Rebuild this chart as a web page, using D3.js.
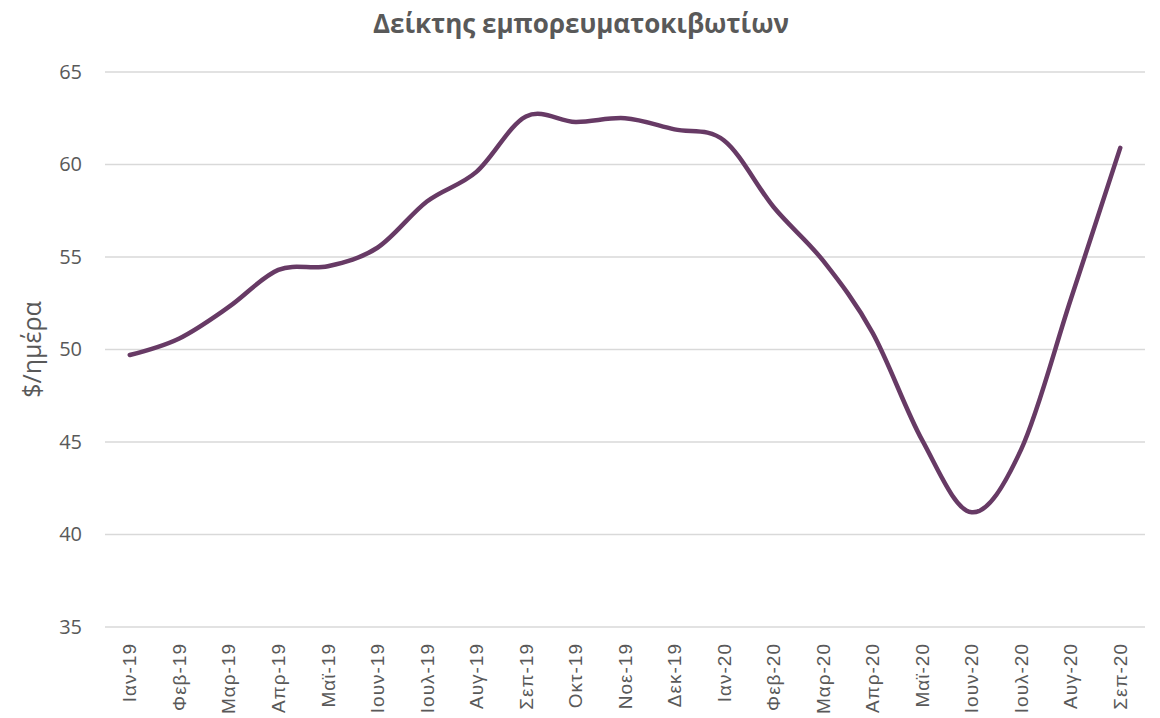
<!DOCTYPE html>
<html>
<head>
<meta charset="utf-8">
<script src="https://cdn.jsdelivr.net/npm/d3@7"></script>
<style>
  body { margin: 0; background: #fff; }
  svg text { fill: #595959; }
</style>
</head>
<body>
<svg id="chart" width="1160" height="718"></svg>
<script>
var months = ["Ιαν-19", "Φεβ-19", "Μαρ-19", "Απρ-19", "Μαϊ-19", "Ιουν-19", "Ιουλ-19",
  "Αυγ-19", "Σεπ-19", "Οκτ-19", "Νοε-19", "Δεκ-19", "Ιαν-20", "Φεβ-20", "Μαρ-20",
  "Απρ-20", "Μαϊ-20", "Ιουν-20", "Ιουλ-20", "Αυγ-20", "Σεπ-20"];
var index = [49.7, 50.6, 52.3, 54.3, 54.5, 55.5, 58.0, 59.6, 62.6, 62.3, 62.5,
  61.9, 61.3, 57.7, 54.8, 50.9, 45.1, 41.2, 44.6, 52.7, 60.9];
var yTicks = [35, 40, 45, 50, 55, 60, 65];

var svg = d3.select("#chart"),
  plotLeft = 105, plotRight = 1145, plotTop = 72, plotBottom = 627;

var x = d3.scaleBand()
  .domain(months)
  .range([plotLeft, plotRight]);

var y = d3.scaleLinear()
  .domain([35, 65])
  .range([plotBottom, plotTop]);

// gridlines
svg.append("g")
  .selectAll("line")
  .data(yTicks)
  .enter().append("line")
  .attr("x1", plotLeft)
  .attr("x2", plotRight)
  .attr("y1", function(d) { return y(d); })
  .attr("y2", function(d) { return y(d); })
  .style("stroke", "#d9d9d9")
  .style("stroke-width", 1.5);

// y axis
var yAxis = svg.append("g")
  .attr("transform", "translate(" + (plotLeft - 23) + ",0)")
  .call(d3.axisLeft(y).tickValues(yTicks).tickSize(0).tickPadding(0));
yAxis.select(".domain").remove();
yAxis.selectAll("text")
  .style("font-family", "'Open Sans', sans-serif")
  .style("font-size", "20px")
  .style("fill", "#595959");

// x axis
var xAxis = svg.append("g")
  .attr("transform", "translate(0," + plotBottom + ")")
  .call(d3.axisBottom(x).tickSize(0));
xAxis.select(".domain").remove();
xAxis.selectAll("text")
  .attr("transform", "rotate(-90)")
  .attr("x", -16)
  .attr("y", 0)
  .attr("dy", "0.35em")
  .style("text-anchor", "end")
  .style("font-family", "'Liberation Sans', Arial, sans-serif")
  .style("font-size", "19px")
  .style("letter-spacing", "1px")
  .style("fill", "#595959");

// line
var line = d3.line()
  .x(function(d, i) { return x(months[i]) + x.bandwidth() / 2; })
  .y(function(d) { return y(d); })
  .curve(d3.curveCatmullRom.alpha(0));

svg.append("path")
  .datum(index)
  .attr("d", line)
  .style("fill", "none")
  .style("stroke", "#673a65")
  .style("stroke-width", 4.5)
  .style("stroke-linecap", "round");

// title
svg.append("text")
  .attr("x", 581)
  .attr("y", 33)
  .attr("text-anchor", "middle")
  .style("font-family", "'Open Sans', sans-serif")
  .style("font-weight", "bold")
  .style("font-size", "26px")
  .text("Δείκτης εμπορευματοκιβωτίων");

// y label
svg.append("text")
  .attr("transform", "translate(41," + y(50) + ") rotate(-90)")
  .attr("text-anchor", "middle")
  .style("font-family", "'Open Sans', sans-serif")
  .style("font-size", "25px")
  .text("$/ημέρα");
</script>
</body>
</html>
